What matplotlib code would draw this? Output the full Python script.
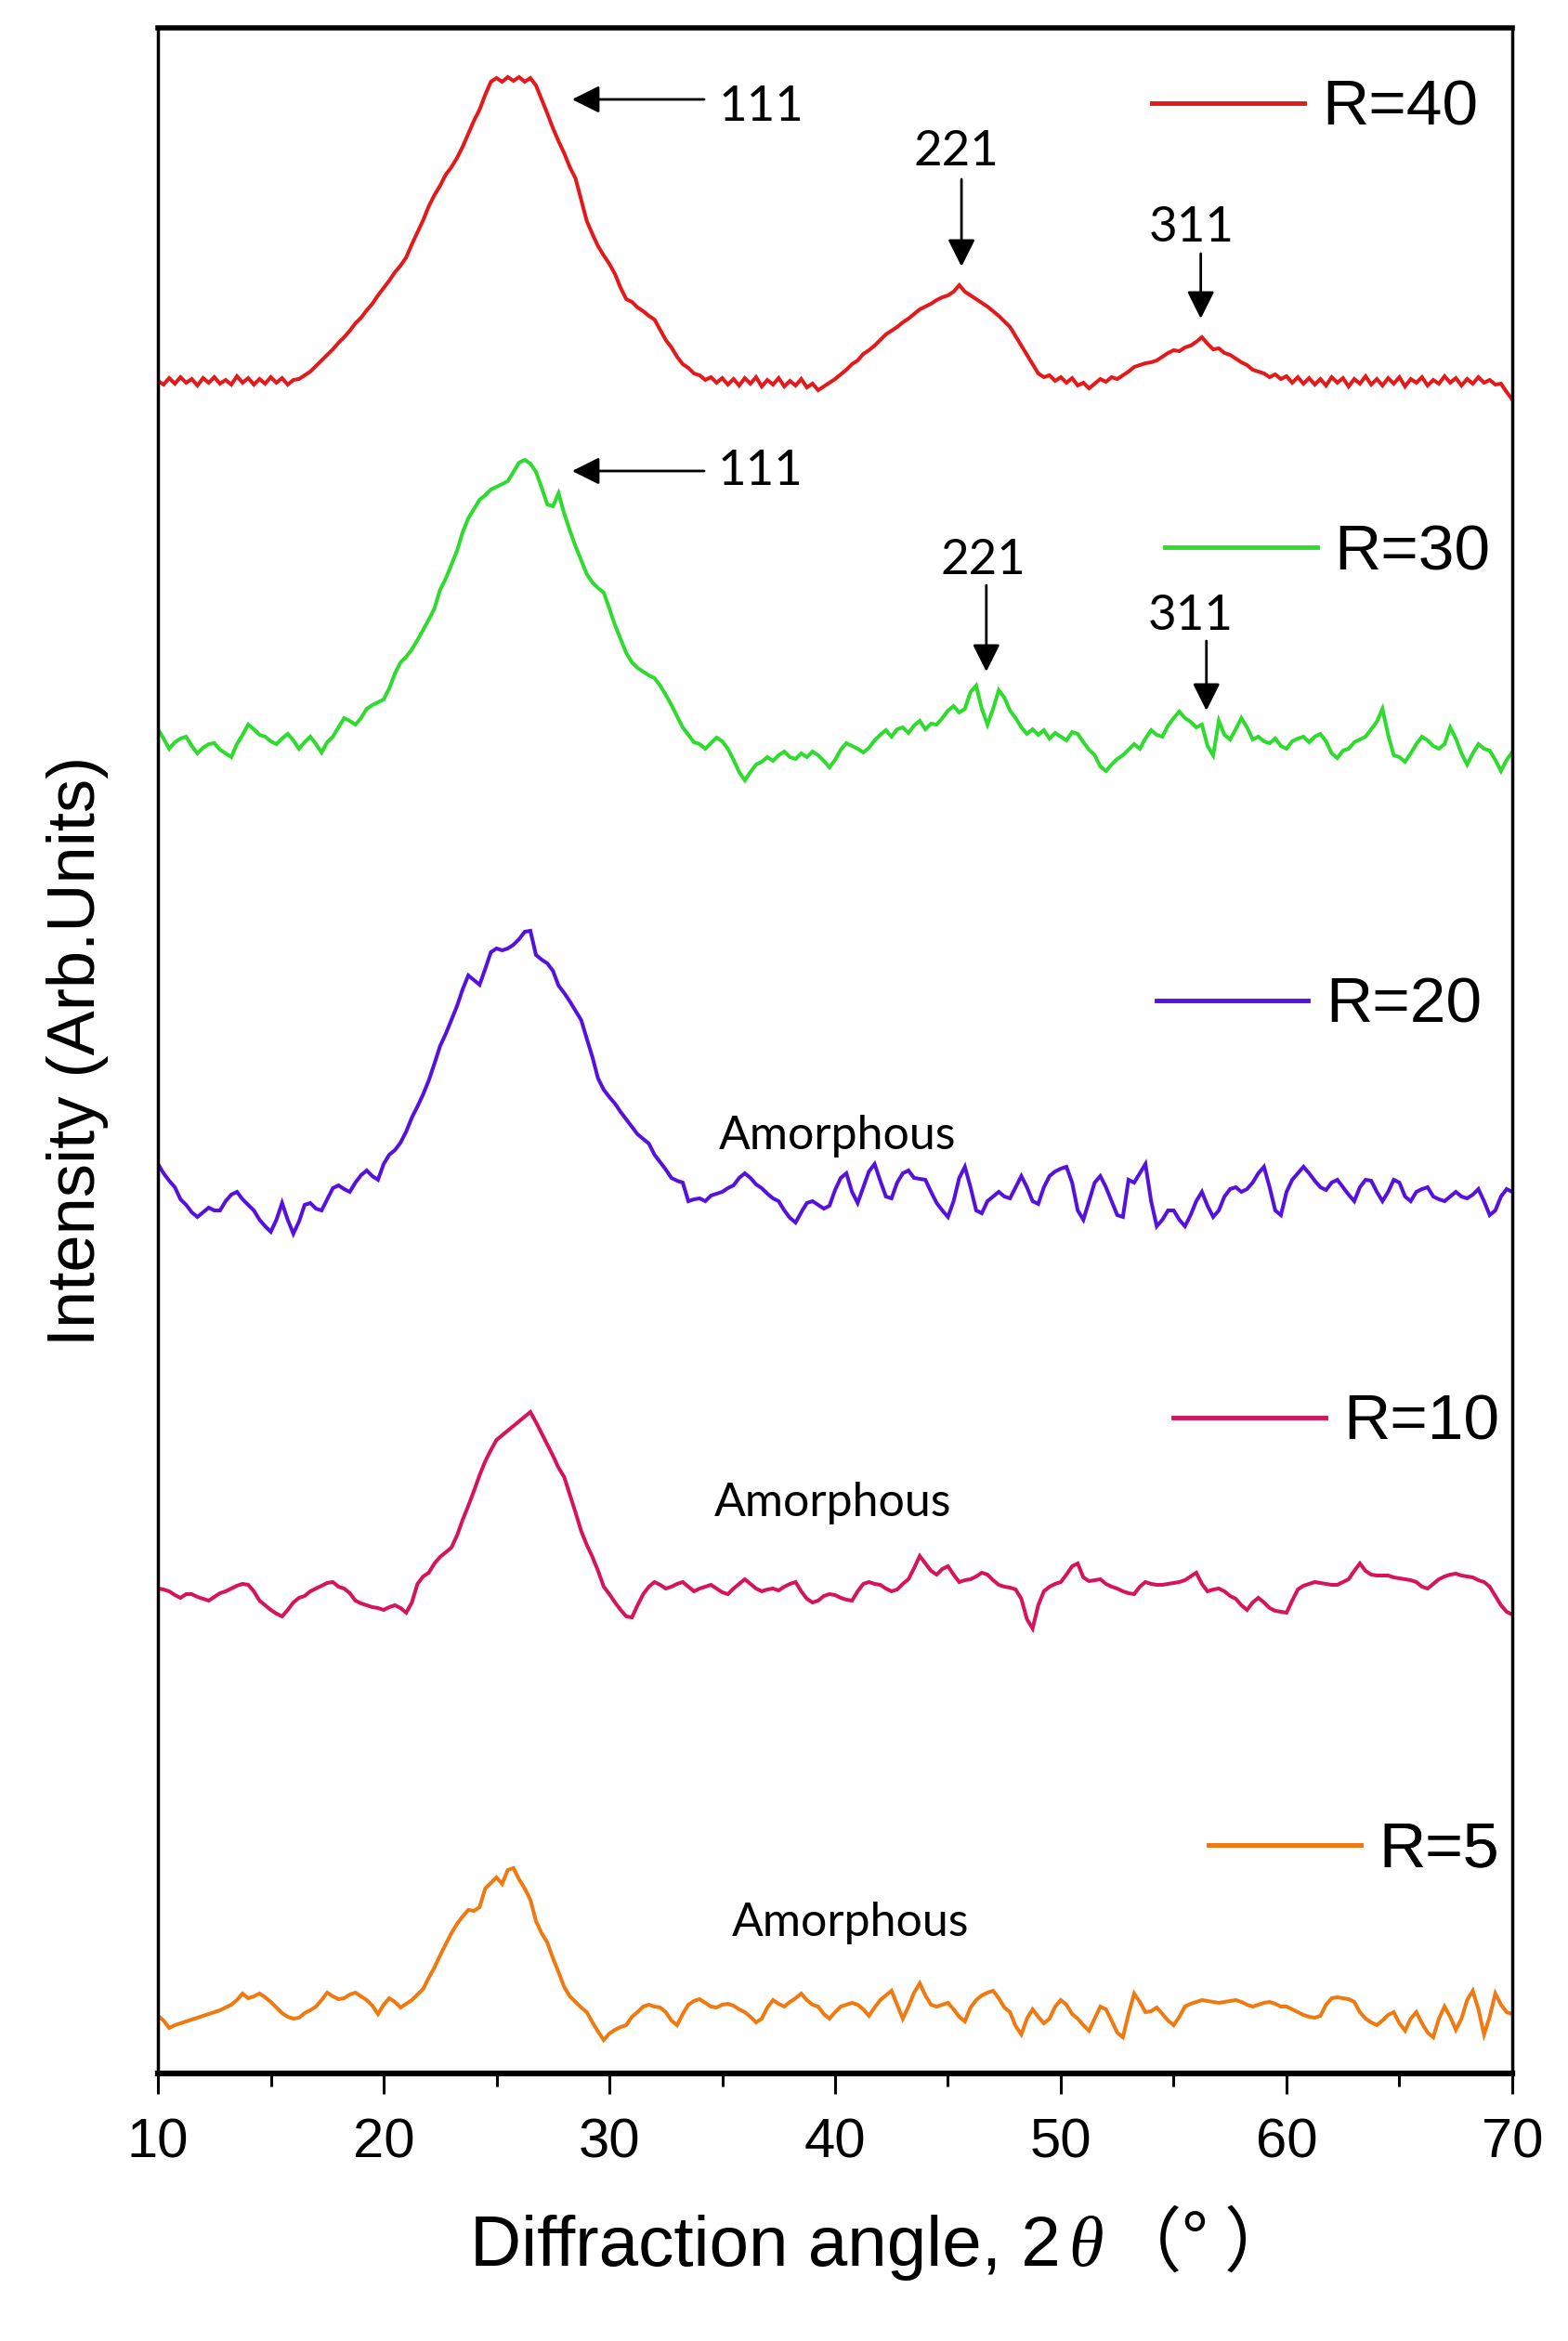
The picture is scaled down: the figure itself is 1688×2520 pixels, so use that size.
"""XRD patterns for R = 5 ... 40, stacked with offsets."""
import numpy as np
import matplotlib
matplotlib.use("Agg")
import matplotlib.pyplot as plt
from matplotlib.ticker import MultipleLocator
from matplotlib.offsetbox import TextArea, HPacker, AnchoredOffsetbox

# 2-theta scan grid (degrees), 0.25 deg step
two_theta = np.linspace(10, 70, 241)

# intensities above each pattern's own baseline (arb. units), 10.00 ... 70.00 deg
r40 = [
    0, -4, 3, -3, 4, -2, 2, -5, 3, -2, 4, -3, 1, -4, 5, -2, 3, -4, 2, -3,
    4, -2, 3, -4, 1, 2, 6, 10, 16, 22, 28, 34, 41, 47, 54, 62, 68, 76, 83, 92,
    100, 108, 117, 124, 133, 147, 160, 173, 188, 200, 210, 222, 230, 240, 252, 266, 280, 292, 308, 322,
    326, 322, 327, 323, 327, 322, 326, 318, 303, 288, 272, 258, 245, 230, 218, 195, 172, 158, 145, 135,
    126, 115, 100, 88, 85, 79, 75, 70, 66, 55, 44, 36, 26, 18, 14, 8, 6, 1, 4, -2,
    3, -4, 2, -5, 3, -3, 4, -6, 1, -4, 3, -6, 0, -5, 2, -7, -3, -10, -6, -2,
    2, 7, 12, 18, 22, 29, 33, 38, 44, 50, 54, 58, 63, 67, 72, 77, 80, 83, 87, 90,
    92, 96, 103, 96, 92, 88, 84, 80, 75, 70, 64, 58, 48, 38, 28, 18, 8, 4, 6, 0,
    4, -2, 3, -5, -2, -8, -3, 2, -1, 4, 2, 6, 10, 15, 17, 19, 20, 22, 26, 30,
    33, 32, 36, 38, 42, 47, 40, 34, 35, 30, 28, 24, 20, 17, 12, 10, 8, 4, 7, 2,
    5, -2, 4, -3, 3, -4, 2, -5, 4, -2, 3, -6, 2, -3, 5, -4, 2, -5, 3, -3,
    4, -6, 2, -2, 4, -5, 1, -3, 5, -2, 3, -5, 2, -3, 4, -2, 1, -4, -3, -12,
    -20,
]
r30 = [
    18, 8, -3, 4, 8, 10, 0, -8, -2, 2, 3, -4, -8, -12, 2, 12, 23, 18, 12, 10,
    5, 2, 8, 13, 6, -3, 4, 10, 2, -7, 4, 10, 20, 30, 27, 23, 30, 40, 44, 47,
    50, 62, 78, 90, 96, 104, 114, 125, 136, 148, 168, 180, 195, 210, 230, 245, 255, 265, 270, 276,
    279, 282, 285, 295, 305, 308, 304, 295, 278, 260, 258, 272, 250, 232, 215, 200, 185, 176, 170, 165,
    148, 130, 115, 100, 90, 84, 80, 76, 73, 65, 55, 44, 32, 20, 12, 4, 2, -3, 3, 9,
    5, -3, -15, -28, -37, -28, -20, -17, -12, -16, -10, -6, -12, -14, -8, -12, -6, -10, -16, -23,
    -15, -4, 3, 0, -3, -7, -2, 6, 12, 17, 10, 18, 20, 14, 22, 27, 18, 24, 23, 30,
    38, 43, 36, 40, 58, 65, 40, 23, 40, 60, 52, 38, 30, 20, 13, 18, 12, 17, 8, 14,
    10, 6, 15, 13, 4, -4, -10, -22, -27, -20, -14, -10, -4, 2, -3, 8, 17, 12, 10, 22,
    30, 37, 30, 26, 20, 23, 0, -10, 27, 12, 7, 18, 30, 20, 7, 10, 5, 3, 8, 0,
    -3, 5, 8, 10, 4, 10, 13, 5, -8, -13, -5, -3, 4, 7, 10, 18, 26, 40, 12, -10,
    -12, -17, -8, 2, 10, 6, 0, -3, 2, 20, 8, -8, -20, -8, 2, -3, -5, -15, -27, -15,
    -7,
]
r20 = [
    30, 20, 12, 5, -8, -14, -22, -27, -22, -17, -20, -20, -10, -3, 0, -8, -14, -20, -30, -37,
    -43, -30, -12, -30, -45, -32, -14, -12, -18, -20, -8, 4, 7, 3, 0, 10, 18, 23, 17, 13,
    30, 40, 45, 53, 65, 80, 92, 105, 120, 138, 157, 170, 185, 200, 218, 233, 228, 223, 240, 258,
    262, 260, 262, 266, 272, 280, 281, 255, 250, 246, 238, 222, 214, 205, 195, 185, 165, 145, 122, 110,
    102, 95, 86, 78, 70, 62, 57, 52, 40, 32, 24, 15, 12, 10, -10, -8, -7, -10, -4, -2,
    0, 4, 7, 15, 20, 15, 8, 4, -2, -7, -10, -20, -28, -33, -22, -12, -10, -14, -18, -15,
    2, 15, 20, 0, -12, 5, 22, 30, 12, -5, -7, 10, 20, 23, 15, 14, 13, 0, -12, -20,
    -27, -10, 15, 27, 5, -20, -23, -10, -5, 0, -5, -7, 5, 17, 5, -10, -13, 5, 17, 22,
    25, 27, 10, -20, -30, -10, 10, 17, 5, -10, -25, -27, 13, 10, 20, 30, -10, -37, -30, -20,
    -20, -30, -37, -25, -10, 0, -15, -27, -20, -5, 3, 5, 0, 3, 10, 20, 27, 5, -20, -25,
    0, 13, 20, 27, 20, 12, 5, 2, 10, 13, 5, -3, -10, 5, 13, 12, 0, -10, 0, 13,
    10, -5, -10, 0, 3, 5, -5, -8, -10, -5, 0, -5, -7, -3, 3, -10, -25, -20, -5, 3,
    0,
]
r10 = [
    3, 2, 0, -4, -7, -3, -3, -6, -8, -10, -6, -2, 0, 3, 6, 8, 7, 0, -10, -15,
    -20, -24, -27, -20, -12, -7, -5, 0, 3, 6, 9, 10, 5, 3, -2, -10, -13, -15, -17, -18,
    -20, -17, -15, -18, -23, -12, 8, 16, 20, 30, 37, 42, 47, 60, 77, 92, 108, 125, 140, 152,
    163, 168, 173, 178, 183, 188, 193, 182, 170, 158, 146, 133, 123, 104, 85, 65, 50, 37, 22, 5,
    -3, -12, -20, -27, -28, -15, -3, 5, 10, 7, 3, 5, 8, 10, 5, 0, 3, 5, 7, 3,
    -1, -3, 3, 8, 13, 8, 3, 0, 2, 3, 1, 5, 8, 10, 0, -8, -12, -10, -5, -3,
    -4, -7, -9, -10, 0, 8, 10, 8, 7, 3, 0, 2, 8, 13, 25, 38, 30, 22, 18, 24,
    27, 18, 10, 12, 13, 16, 20, 18, 12, 7, 5, 4, 2, -8, -30, -40, -15, 0, 5, 8,
    10, 18, 27, 30, 15, 11, 12, 13, 8, 5, 3, 0, -2, -3, 5, 10, 8, 7, 7, 8,
    9, 10, 12, 16, 20, 8, 0, 2, 3, 0, -5, -8, -15, -20, -12, -7, -12, -18, -21, -22,
    -23, -10, 2, 6, 8, 10, 9, 8, 7, 7, 10, 13, 22, 30, 22, 18, 17, 17, 17, 15,
    14, 13, 12, 10, 5, 3, 8, 13, 16, 18, 19, 17, 16, 15, 12, 10, 5, -5, -15, -22,
    -25,
]
r5 = [
    -7, -12, -20, -17, -15, -13, -11, -9, -7, -5, -3, -1, 2, 5, 10, 17, 12, 14, 17, 13,
    8, 2, -4, -8, -10, -9, -4, -1, 3, 10, 18, 14, 11, 12, 16, 18, 14, 10, 4, -5,
    5, 12, 8, 2, 6, 10, 16, 22, 34, 45, 58, 70, 82, 92, 100, 107, 106, 110, 130, 136,
    142, 135, 150, 152, 140, 130, 118, 95, 82, 72, 55, 40, 24, 14, 8, 2, -3, -14, -24, -33,
    -26, -22, -19, -17, -8, -3, 3, 5, 3, 2, -3, -12, -17, -5, 5, 9, 11, 7, 3, 2,
    5, 6, 4, 0, -3, -8, -14, -10, 2, 10, 6, 3, 8, 12, 17, 10, 5, 3, -5, -10,
    -3, 3, 5, 7, 5, 0, -7, 2, 10, 15, 20, 5, -10, 3, 18, 28, 15, 5, 3, 5,
    7, 0, -8, -13, 2, 10, 15, 18, 20, 12, 2, -3, -18, -27, -10, 0, -8, -15, -10, 3,
    10, 5, -5, -10, -17, -23, -10, 3, 0, -12, -25, -30, -5, 17, 8, -3, -2, 2, -5, -12,
    -17, -8, 3, 6, 8, 10, 9, 8, 7, 8, 9, 10, 8, 5, 3, 5, 7, 8, 6, 3,
    3, 0, -3, -6, -8, -9, -7, 5, 12, 13, 12, 11, 8, -3, -10, -14, -17, -12, -6, -3,
    -15, -23, -10, -3, -15, -25, -30, -10, 3, -8, -22, -10, 10, 20, 0, -27, -8, 17, 5, -3,
    -5,
]

labels = ["R=40", "R=30", "R=20", "R=10", "R=5"]
series = [r40, r30, r20, r10, r5]
offsets = [1822, 1429, 949, 519, 69]
colors = ["#e3191b", "#2fdb2f", "#5512dc", "#d6145c", "#f07a12"]

# legend anchor (axes fraction, left end of handle)
legend_pos = [(0.734, 0.9605), (0.7435, 0.7434), (0.737, 0.5218), (0.750, 0.3179), (0.776, 0.109)]

# peak labels: (text, text x, text y, arrow tip x, arrow tip y, arrow start x, arrow start y)
peak_marks = [
    ("111", 36.75, 2117, 28.35, 2125, 34.2, 2125),
    ("221", 45.35, 2069, 45.6, 1945, 45.6, 2039),
    ("311", 55.8, 1987, 56.2, 1889, 56.2, 1959),
    ("111", 36.7, 1725, 28.35, 1725, 34.2, 1725),
    ("221", 46.55, 1629, 46.7, 1509, 46.7, 1602),
    ("311", 55.75, 1569, 56.45, 1467, 56.45, 1542),
]
amorph_pos = [(40.1, 1009), (39.9, 614), (40.7, 162)]

fig = plt.figure(figsize=(16.88, 25.2), dpi=100)
ax = fig.add_axes([170 / 1688, (2520 - 2232) / 2520, 1458 / 1688, 2202 / 2520])

for lab, vals, off, col, pos in zip(labels, series, offsets, colors, legend_pos):
    y = np.asarray(vals, dtype=float) + off
    line, = ax.plot(two_theta, y, color=col, lw=2.9, solid_joinstyle="miter")
    leg = ax.legend([line], [lab], loc="center left", bbox_to_anchor=pos,
                    frameon=False, borderpad=0, borderaxespad=0,
                    handlelength=2.36, handletextpad=0.27,
                    prop={"family": "Liberation Sans", "size": 50})
    leg.get_lines()[0].set_linewidth(3.5)
    ax.add_artist(leg)

for txt, tx, ty, ax_tip, ay_tip, ax0, ay0 in peak_marks:
    ax.annotate("", xy=(ax_tip, ay_tip), xytext=(ax0, ay0),
                arrowprops=dict(arrowstyle="-|>,head_length=0.4,head_width=0.2",
                                mutation_scale=45, color="black", lw=2,
                                shrinkA=0, shrinkB=0))
    ax.text(tx, ty, txt, ha="center", va="center", fontsize=38, family="Lato")

for xa, ya in amorph_pos:
    ax.text(xa, ya, "Amorphous", ha="center", va="center", fontsize=36, family="Lato")

ax.set_xlim(10, 70)
ax.set_ylim(0, 2202)
ax.set_yticks([])
ax.xaxis.set_major_locator(MultipleLocator(10))
ax.xaxis.set_minor_locator(MultipleLocator(5))
ax.tick_params(axis="x", which="major", direction="out", length=16, width=2.2,
               labelsize=43, pad=18)
ax.tick_params(axis="x", which="minor", direction="out", length=10, width=2.2)
for lab in ax.get_xticklabels():
    lab.set_family("Liberation Sans")

for side in ["left", "right"]:
    ax.spines[side].set_linewidth(2.5)
ax.spines["top"].set_linewidth(4)
ax.spines["bottom"].set_linewidth(4.5)

# x label: plain text, italic theta, full-width brackets
xlab_parts = [
    TextArea("Diffraction angle, 2", textprops=dict(fontsize=55, family="Liberation Sans")),
    TextArea("θ", textprops=dict(fontsize=55, family="Liberation Serif", style="italic")),
    TextArea("\uFF08° \uFF09", textprops=dict(fontsize=55, family=["Noto Sans CJK SC", "DejaVu Sans"])),
]
xlab_box = HPacker(children=xlab_parts, align="baseline", pad=0, sep=6)
xlab = AnchoredOffsetbox(loc="upper left", child=xlab_box, pad=0, borderpad=0,
                         frameon=False, bbox_to_anchor=(0.2305, -0.066),
                         bbox_transform=ax.transAxes)
ax.add_artist(xlab)

ax.set_ylabel("Intensity (Arb.Units)", fontsize=52, labelpad=38, family="Liberation Sans")

fig.savefig("out.png", dpi=100)
